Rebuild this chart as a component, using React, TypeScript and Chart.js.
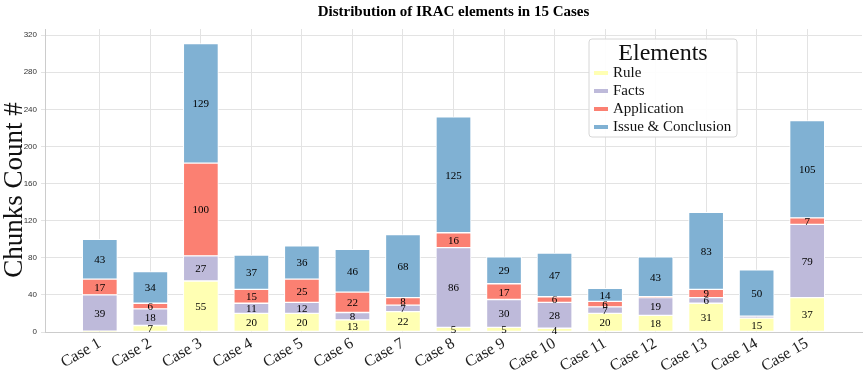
import React, { useEffect, useRef } from 'react';
import { Chart, registerables } from 'chart.js';

Chart.register(...registerables);

const categories = ['Case 1', 'Case 2', 'Case 3', 'Case 4', 'Case 5', 'Case 6', 'Case 7', 'Case 8', 'Case 9', 'Case 10', 'Case 11', 'Case 12', 'Case 13', 'Case 14', 'Case 15'];
const rule = [1, 7, 55, 20, 20, 13, 22, 5, 5, 4, 20, 18, 31, 15, 37];
const facts = [39, 18, 27, 11, 12, 8, 7, 86, 30, 28, 7, 19, 6, 2, 79];
const application = [17, 6, 100, 15, 25, 22, 8, 16, 17, 6, 6, 1, 9, 0, 7];
const issueConclusion = [43, 34, 129, 37, 36, 46, 68, 125, 29, 47, 14, 43, 83, 50, 105];
const yTicks = [0, 40, 80, 120, 160, 200, 240, 280, 320];
const seriesNames = ['Rule', 'Facts', 'Application', 'Issue & Conclusion'];
const seriesColors = ['#ffffb3', '#bebada', '#fb8072', '#80b1d3'];
const chartTitle = 'Distribution of IRAC elements in 15 Cases';
const yAxisTitle = 'Chunks Count #';
const legendTitle = 'Elements';

const SERIF = '"Liberation Serif", "Times New Roman", serif';

const labelsPlugin = {
  id: 'segLabels',
  afterDatasetsDraw(chart: any) {
    const ctx = chart.ctx;
    ctx.save();
    ctx.font = `11px ${SERIF}`;
    ctx.fillStyle = '#000';
    ctx.textAlign = 'center';
    ctx.textBaseline = 'middle';
    chart.data.datasets.forEach((ds: any, di: number) => {
      const meta = chart.getDatasetMeta(di);
      meta.data.forEach((el: any, i: number) => {
        const v = ds.data[i].y;
        if (v >= 4) {
          ctx.fillText(String(v), el.x, (el.y + el.base) / 2 + 1);
        }
      });
    });
    ctx.restore();
  },
};

const decorPlugin = {
  id: 'decor',
  afterDraw(chart: any) {
    const ctx = chart.ctx;
    const area = chart.chartArea;
    ctx.save();
    // main title
    ctx.font = `bold 15px ${SERIF}`;
    ctx.fillStyle = '#000';
    ctx.textAlign = 'center';
    ctx.textBaseline = 'middle';
    ctx.fillText(chartTitle, (area.left + area.right) / 2, 12);
    // y axis title
    ctx.save();
    ctx.translate(15, 190);
    ctx.rotate(-Math.PI / 2);
    ctx.font = `27px ${SERIF}`;
    ctx.fillStyle = '#111';
    ctx.textAlign = 'center';
    ctx.textBaseline = 'middle';
    ctx.fillText(yAxisTitle, 0, 0);
    ctx.restore();
    // legend
    const bx = 589, by = 39, bw = 148, bh = 98, r = 3;
    ctx.beginPath();
    ctx.moveTo(bx + r, by);
    ctx.lineTo(bx + bw - r, by);
    ctx.quadraticCurveTo(bx + bw, by, bx + bw, by + r);
    ctx.lineTo(bx + bw, by + bh - r);
    ctx.quadraticCurveTo(bx + bw, by + bh, bx + bw - r, by + bh);
    ctx.lineTo(bx + r, by + bh);
    ctx.quadraticCurveTo(bx, by + bh, bx, by + bh - r);
    ctx.lineTo(bx, by + r);
    ctx.quadraticCurveTo(bx, by, bx + r, by);
    ctx.closePath();
    ctx.fillStyle = 'rgba(255,255,255,0.9)';
    ctx.fill();
    ctx.strokeStyle = '#d6d6d6';
    ctx.lineWidth = 1;
    ctx.stroke();
    ctx.fillStyle = '#111';
    ctx.font = `24px ${SERIF}`;
    ctx.textAlign = 'center';
    ctx.textBaseline = 'alphabetic';
    ctx.fillText(legendTitle, bx + bw / 2, by + 21);
    ctx.font = `15px ${SERIF}`;
    ctx.textAlign = 'left';
    seriesNames.forEach((name, i) => {
      const base = by + 38 + i * 18;
      ctx.fillStyle = seriesColors[i];
      ctx.fillRect(bx + 5, base - 6, 14, 4);
      ctx.fillStyle = '#111';
      ctx.fillText(name, bx + 24, base);
    });
    ctx.restore();
  },
};

export default function App() {
  const ref = useRef<HTMLCanvasElement | null>(null);
  useEffect(() => {
    document.body.style.margin = '0';
    if (!ref.current) return;
    const series = [rule, facts, application, issueConclusion];
    const chart = new Chart(ref.current, {
      type: 'bar',
      data: {
        datasets: series.map((vals, si) => ({
          label: seriesNames[si],
          data: vals.map((v, i) => ({ x: i, y: v })),
          backgroundColor: seriesColors[si],
          borderColor: '#ffffff',
          borderWidth: 1,
          borderSkipped: false,
          barThickness: 35,
        })),
      },
      options: {
        animation: false,
        responsive: false,
        devicePixelRatio: 1,
        layout: { padding: { top: 29, right: 6, left: 0, bottom: 0 } },
        plugins: {
          legend: { display: false },
          title: { display: false },
          tooltip: { enabled: false },
        },
        scales: {
          x: {
            type: 'linear',
            stacked: true,
            offset: false,
            min: -1.085,
            max: 15.085,
            afterBuildTicks: (s: any) => {
              s.ticks = categories.map((_, i) => ({ value: i }));
            },
            afterFit: (s: any) => {
              s.height = 45;
              s.paddingLeft = 0;
              s.paddingRight = 0;
            },
            ticks: {
              autoSkip: false,
              minRotation: 30,
              maxRotation: 30,
              padding: 2,
              color: '#222',
              font: { family: SERIF, size: 16 },
              callback: (v: any) => categories[v as number] ?? '',
            },
            grid: { color: '#e3e3e3', drawTicks: false, lineWidth: 1, offset: false },
            border: { display: true, color: '#cccccc' },
          },
          y: {
            type: 'linear',
            stacked: true,
            min: 0,
            max: 326.6,
            afterBuildTicks: (s: any) => {
              s.ticks = yTicks.map((v) => ({ value: v }));
            },
            afterFit: (s: any) => {
              s.width = 45;
              s.paddingTop = 0;
              s.paddingBottom = 0;
            },
            ticks: {
              padding: 4,
              color: '#333',
              font: { family: '"Liberation Sans", Arial, sans-serif', size: 8 },
            },
            grid: { color: '#e3e3e3', tickLength: 4, lineWidth: 1 },
            border: { display: true, color: '#cccccc' },
          },
        },
      } as any,
      plugins: [labelsPlugin, decorPlugin],
    });
    return () => chart.destroy();
  }, []);
  return (
    <div style={{ position: 'absolute', left: 0, top: 0, width: 868, height: 377 }}>
      <canvas ref={ref} width={868} height={377} />
    </div>
  );
}
